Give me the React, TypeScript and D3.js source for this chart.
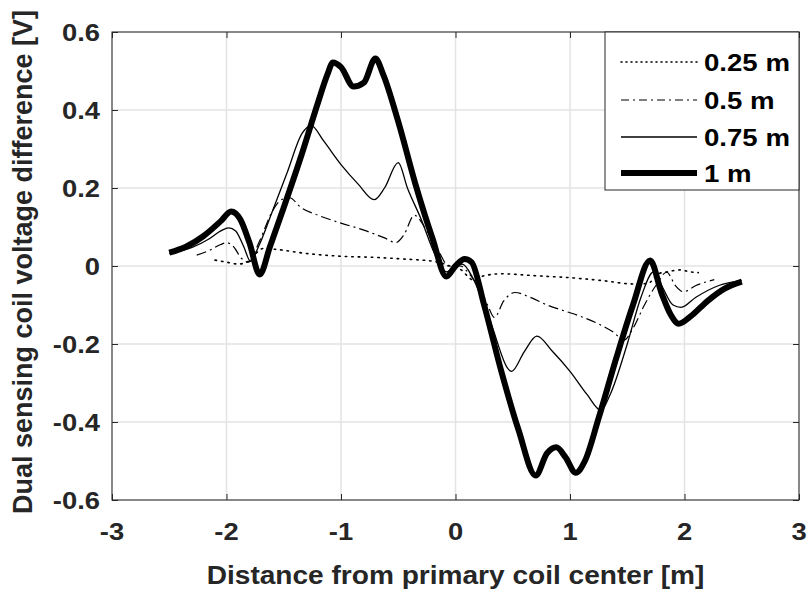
import React, { useRef, useEffect } from 'react';
import * as d3 from 'd3';

// distance [m] and voltage [V] for each sensing height
const dist025 = [-2.1, -2.0, -1.9, -1.82, -1.75, -1.68, -1.55, -1.3, -1.0, -0.7, -0.4, -0.25, -0.15, -0.05, 0.05, 0.15, 0.25, 0.4, 0.7, 1.0, 1.3, 1.55, 1.68, 1.77, 1.85, 1.96, 2.05, 2.12];
const volt025 = [0.015, 0.01, 0.005, 0.01, 0.03, 0.045, 0.042, 0.032, 0.025, 0.022, 0.017, 0.014, 0.01, 0.0, -0.01, -0.035, -0.025, -0.02, -0.025, -0.03, -0.038, -0.046, -0.045, -0.02, -0.015, -0.01, -0.015, -0.017];

const dist05 = [-2.26, -2.15, -2.05, -2.0, -1.94, -1.87, -1.81, -1.71, -1.6, -1.52, -1.45, -1.35, -1.2, -1.0, -0.8, -0.62, -0.52, -0.45, -0.36, -0.25, -0.15, -0.06, 0.04, 0.12, 0.2, 0.28, 0.34, 0.42, 0.52, 0.65, 0.8, 0.95, 1.1, 1.26, 1.38, 1.47, 1.55, 1.65, 1.75, 1.845, 1.92, 1.99, 2.1, 2.26];
const volt05 = [0.028, 0.04, 0.055, 0.06, 0.05, 0.02, 0.01, 0.065, 0.14, 0.17, 0.175, 0.15, 0.13, 0.11, 0.092, 0.072, 0.06, 0.08, 0.13, 0.09, 0.04, 0.0, 0.0, -0.02, -0.054, -0.1, -0.132, -0.09, -0.068, -0.08, -0.1, -0.115, -0.13, -0.15, -0.17, -0.19, -0.16, -0.1, -0.05, -0.016, -0.05, -0.066, -0.05, -0.035];

const dist075 = [-2.5, -2.3, -2.15, -2.05, -1.98, -1.92, -1.85, -1.79, -1.72, -1.6, -1.47, -1.34, -1.26, -1.15, -1.0, -0.85, -0.71, -0.62, -0.5, -0.42, -0.3, -0.18, -0.08, 0.0, 0.06, 0.15, 0.3, 0.49, 0.6, 0.71, 0.85, 1.0, 1.15, 1.27, 1.35, 1.5, 1.62, 1.73, 1.8, 1.9, 1.97, 2.1, 2.3, 2.5];
const volt075 = [0.032, 0.048, 0.07, 0.09, 0.098, 0.09, 0.05, 0.012, 0.05, 0.14, 0.24, 0.34, 0.36, 0.32, 0.26, 0.21, 0.17, 0.2, 0.265, 0.2, 0.12, 0.03, -0.015, 0.0, 0.005, -0.03, -0.14, -0.27, -0.22, -0.18, -0.22, -0.27, -0.33, -0.37, -0.33, -0.2, -0.08, -0.015, -0.05, -0.1, -0.106, -0.08, -0.05, -0.037];

const dist1 = [-2.5, -2.35, -2.2, -2.05, -1.96, -1.88, -1.8, -1.71, -1.62, -1.5, -1.35, -1.2, -1.12, -1.07, -1.0, -0.89, -0.8, -0.7, -0.63, -0.5, -0.35, -0.2, -0.08, 0.0, 0.08, 0.14, 0.25, 0.4, 0.55, 0.7, 0.8, 0.88, 0.96, 1.05, 1.13, 1.25, 1.4, 1.55, 1.7, 1.8, 1.88, 1.95, 2.05, 2.2, 2.35, 2.5];
const volt1 = [0.034, 0.05, 0.077, 0.115, 0.14, 0.12, 0.06, -0.022, 0.05, 0.15, 0.28, 0.42, 0.49, 0.522, 0.51, 0.46, 0.47, 0.532, 0.49, 0.37, 0.21, 0.07, -0.027, 0.0, 0.018, 0.01, -0.1, -0.27, -0.42, -0.537, -0.48, -0.465, -0.49, -0.53, -0.5, -0.39, -0.24, -0.1, 0.014, -0.07, -0.125, -0.148, -0.13, -0.09, -0.058, -0.04];

const seriesNames = ['0.25 m', '0.5 m', '0.75 m', '1 m'];
const xTicks = [-3, -2, -1, 0, 1, 2, 3];
const yTicks = [-0.6, -0.4, -0.2, 0, 0.2, 0.4, 0.6];
const xTickLabels = ['-3', '-2', '-1', '0', '1', '2', '3'];
const yTickLabels = ['-0.6', '-0.4', '-0.2', '0', '0.2', '0.4', '0.6'];

const FONT = '"Liberation Sans", Arial, Helvetica, sans-serif';

export default function App() {
    const svgRef = useRef<SVGSVGElement>(null);

    useEffect(() => {
        const width = 809, height = 594;
        const margin = { top: 32, right: 10, bottom: 94, left: 112 };
        const w = width - margin.left - margin.right;
        const h = height - margin.top - margin.bottom;

        const root = d3.select(svgRef.current);
        root.selectAll('*').remove();
        root.attr('width', width).attr('height', height);

        const svg = root.append('g').attr('transform', `translate(${margin.left},${margin.top})`);

        const x = d3.scaleLinear().domain([-3, 3]).range([0, w]);
        const y = d3.scaleLinear().domain([-0.6, 0.6]).range([h, 0]);

        // text is a bit wider than the font in the original figure
        const label = (g, px, py, str, size, anchor, sx = 1.14) =>
            g.append('text')
                .attr('transform', `translate(${px},${py}) scale(${sx},1)`)
                .attr('text-anchor', anchor)
                .attr('font-family', FONT).attr('font-weight', 'bold')
                .attr('font-size', size).attr('fill', '#262626')
                .text(str);

        // grid
        svg.append('g').selectAll('line').data(xTicks).enter().append('line')
            .attr('x1', d => x(d)).attr('x2', d => x(d)).attr('y1', 0).attr('y2', h)
            .attr('stroke', '#e3e3e3').attr('stroke-width', 1.5);
        svg.append('g').selectAll('line').data(yTicks).enter().append('line')
            .attr('y1', d => y(d)).attr('y2', d => y(d)).attr('x1', 0).attr('x2', w)
            .attr('stroke', '#e3e3e3').attr('stroke-width', 1.5);

        // inward tick marks on all four sides
        const styleAxis = (g) => {
            g.select('.domain').remove();
            g.selectAll('line').attr('stroke', '#262626');
        };
        svg.append('g').attr('transform', `translate(0,${h})`)
            .call(d3.axisBottom(x).tickValues(xTicks).tickSize(-6).tickFormat(() => ''))
            .call(styleAxis);
        svg.append('g')
            .call(d3.axisTop(x).tickValues(xTicks).tickSize(-6).tickFormat(() => ''))
            .call(styleAxis);
        svg.append('g')
            .call(d3.axisLeft(y).tickValues(yTicks).tickSize(-6).tickFormat(() => ''))
            .call(styleAxis);
        svg.append('g').attr('transform', `translate(${w},0)`)
            .call(d3.axisRight(y).tickValues(yTicks).tickSize(-6).tickFormat(() => ''))
            .call(styleAxis);

        svg.append('rect').attr('x', 0).attr('y', 0).attr('width', w).attr('height', h)
            .attr('fill', 'none').attr('stroke', '#262626').attr('stroke-width', 1);

        // tick labels
        xTicks.forEach((t, i) => label(svg, x(t), h + 40, xTickLabels[i], 24, 'middle'));
        yTicks.forEach((t, i) => label(svg, -12, y(t) + 8.5, yTickLabels[i], 24, 'end'));

        // lines
        const line = d3.line<[number, number]>()
            .x(d => x(d[0])).y(d => y(d[1]))
            .curve(d3.curveMonotoneX);

        const series = [
            { xs: dist025, vs: volt025, width: 1.6, dash: '1.5,5', cap: 'round' },
            { xs: dist05, vs: volt05, width: 1.2, dash: '10,4,2,4', cap: 'butt' },
            { xs: dist075, vs: volt075, width: 1.3, dash: null, cap: 'butt' },
            { xs: dist1, vs: volt1, width: 6, dash: null, cap: 'butt' },
        ];

        series.forEach(s => {
            const pts = s.xs.map((d, i) => [d, s.vs[i]] as [number, number]);
            svg.append('path')
                .datum(pts)
                .attr('fill', 'none')
                .attr('stroke', '#000')
                .attr('stroke-width', s.width)
                .attr('stroke-linejoin', 'round')
                .attr('stroke-linecap', s.cap)
                .attr('stroke-dasharray', s.dash)
                .attr('d', line);
        });

        // legend
        const lg = svg.append('g').attr('transform', `translate(${w - 194},0)`);
        lg.append('rect').attr('x', 0).attr('y', 0).attr('width', 194).attr('height', 158)
            .attr('fill', '#fff').attr('stroke', '#262626').attr('stroke-width', 1);
        const rows = [30, 68, 105, 141];
        series.forEach((s, i) => {
            lg.append('line')
                .attr('x1', 16).attr('x2', 92).attr('y1', rows[i]).attr('y2', rows[i])
                .attr('stroke', '#000').attr('stroke-width', s.width)
                .attr('stroke-linecap', s.cap)
                .attr('stroke-dasharray', i === 0 ? '1,4' : i === 1 ? '8,4,2,4' : null);
            label(lg, 99, rows[i] + 8.5, seriesNames[i], 24, 'start', 1.15).attr('fill', '#000');
        });

        // axis labels
        label(svg, w / 2, h + 84, 'Distance from primary coil center [m]', 26, 'middle', 1.08);
        svg.append('text')
            .attr('transform', `translate(${32 - margin.left},${262 - margin.top}) rotate(-90)`)
            .attr('text-anchor', 'middle')
            .attr('font-family', FONT).attr('font-size', 27).attr('font-weight', 'bold')
            .attr('fill', '#262626')
            .text('Dual sensing coil voltage difference [V]');
    }, []);

    return (
        <div style={{ position: 'absolute', left: 0, top: 0 }}>
            <svg ref={svgRef}></svg>
        </div>
    );
}
